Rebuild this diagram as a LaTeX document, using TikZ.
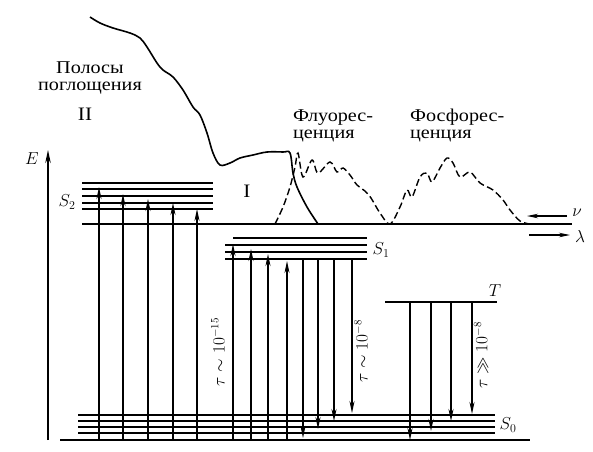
\documentclass[tikz,border=0pt]{standalone}
\usepackage{fontspec}
\setmainfont{Liberation Serif}
\newfontfamily\cyr[FakeStretch=1.12]{Liberation Serif}
\usetikzlibrary{arrows.meta}
\begin{document}
\begin{tikzpicture}[x=1pt,y=-1pt,
  lvl/.style={line width=1.6pt},
  tr/.style={line width=1.4pt,-{Stealth[length=12pt,width=5pt]}},
  curve/.style={line width=1.6pt},
  txt/.style={font=\cyr\fontsize{18}{16}\selectfont,inner sep=0pt},
  sym/.style={font=\fontsize{17.5}{20}\selectfont,inner sep=0pt},
  lab/.style={font=\fontsize{16}{18}\selectfont,inner sep=0pt,rotate=90}]
\useasboundingbox (0,0) rectangle (593,451);
% energy axis
\draw[line width=1.4pt,-{Stealth[length=13pt,width=5.5pt]}] (48,440) -- (48,150);
\node[sym] (E) at (32,159) {$E$};
% S2 levels
\foreach \y in {183,189,196,203,209} \draw[lvl] (82,\y) -- (213,\y);
\node[sym] (S2) at (67,202) {$S_2$};
% spectrum baseline
\draw[lvl] (82,224) -- (572,224);
% S1 levels
\draw[lvl] (233,238) -- (367,238);
\foreach \y in {245,252,259} \draw[lvl] (225,\y) -- (367,\y);
\node[sym] (S1) at (381,250) {$S_1$};
% T level
\draw[lvl] (385,302) -- (497,302);
\node[sym] (T) at (495,291) {$T$};
% S0 levels
\foreach \y in {415,421,427,433} \draw[lvl] (78,\y) -- (495,\y);
\draw[lvl] (60,440) -- (530,440);
\node[sym] (S0) at (508,425) {$S_0$};
% absorption S0 -> S2
\draw[tr] (99,440) -- (99,187);
\draw[tr] (123,440) -- (123,194);
\draw[tr] (148,440) -- (148,199);
\draw[tr] (173,440) -- (173,203);
\draw[tr] (197,440) -- (197,209);
% absorption S0 -> S1
\draw[tr] (233,440) -- (233,244);
\draw[tr] (251,440) -- (251,249);
\draw[tr] (268,440) -- (268,254);
\draw[tr] (287,440) -- (287,261);
% fluorescence S1 -> S0
\draw[tr] (303,259) -- (303,438);
\draw[tr] (318,259) -- (318,429);
\draw[tr] (334,259) -- (334,421);
\draw[tr] (352,259) -- (352,413);
% phosphorescence T -> S0
\draw[tr] (410,302) -- (410,440);
\draw[tr] (431,302) -- (431,431);
\draw[tr] (451,302) -- (451,421);
\draw[tr] (472,302) -- (472,414);
% lifetime labels
\node[lab] (t1) at (218,352) {$\tau\sim10^{-15}$};
\node[lab] (t2) at (361,351) {$\tau\sim10^{-8}$};
\node[lab] (t3) at (481,355) {$\tau\gg10^{-8}$};
% absorption curve
\draw[curve] plot[smooth,tension=0.55] coordinates {
 (90,17) (100,23) (113,28) (130,33) (140,38) (147,47) (157,63) (163,70)
 (173,77) (183,90) (193,107) (200,115) (207,133) (213,153) (220,165)
 (230,163) (240,158) (253,155) (267,152) (283,152) (290,153) (293,173)
 (297,187) (307,207) (318,224)};
% fluorescence + phosphorescence (dashed)
\draw[curve,line width=1.4pt,dash pattern=on 7pt off 3.5pt] plot[smooth,tension=0.55] coordinates {
 (275,224) (283,207) (290,187) (295,167) (298,153) (303,177) (312,160)
 (318,173) (330,162) (337,172) (343,168) (350,175) (357,185) (365,191)
 (371,198) (380,213) (390,224) (400,207) (407,190) (412,197) (420,177)
 (427,173) (432,182) (440,168) (447,158) (453,163) (460,177) (470,172)
 (480,183) (493,190) (503,200) (510,210) (520,221) (530,224)};
% nu and lambda arrows
\coordinate (nuA) at (567,216);
\coordinate (nuB) at (527,216);
\draw[line width=1.3pt,-{Stealth[length=11pt,width=4.5pt]}] (nuA) -- (nuB);
\node[sym] (nu) at (577,213) {$\nu$};
\coordinate (laA) at (529,235);
\coordinate (laB) at (570,235);
\draw[line width=1.3pt,-{Stealth[length=11pt,width=4.5pt]}] (laA) -- (laB);
\node[sym] (la) at (580,236) {$\lambda$};
% texts
\node[txt,anchor=base] (abs1) at (90,73) {Полосы};
\node[txt,anchor=base] (abs2) at (90,90) {поглощения};
\node[txt,font=\cyr\fontsize{19}{20}\selectfont,anchor=base] (II) at (85,120) {II};
\node[txt,font=\cyr\fontsize{19}{20}\selectfont,anchor=base] (I) at (247,197) {I};
\node[txt,anchor=base west] (fl1) at (293,121) {Флуорес-};
\node[txt,anchor=base west] (fl2) at (293,138) {ценция};
\node[txt,anchor=base west] (ph1) at (410,121) {Фосфорес-};
\node[txt,anchor=base west] (ph2) at (410,138) {ценция};
\end{tikzpicture}
\end{document}
